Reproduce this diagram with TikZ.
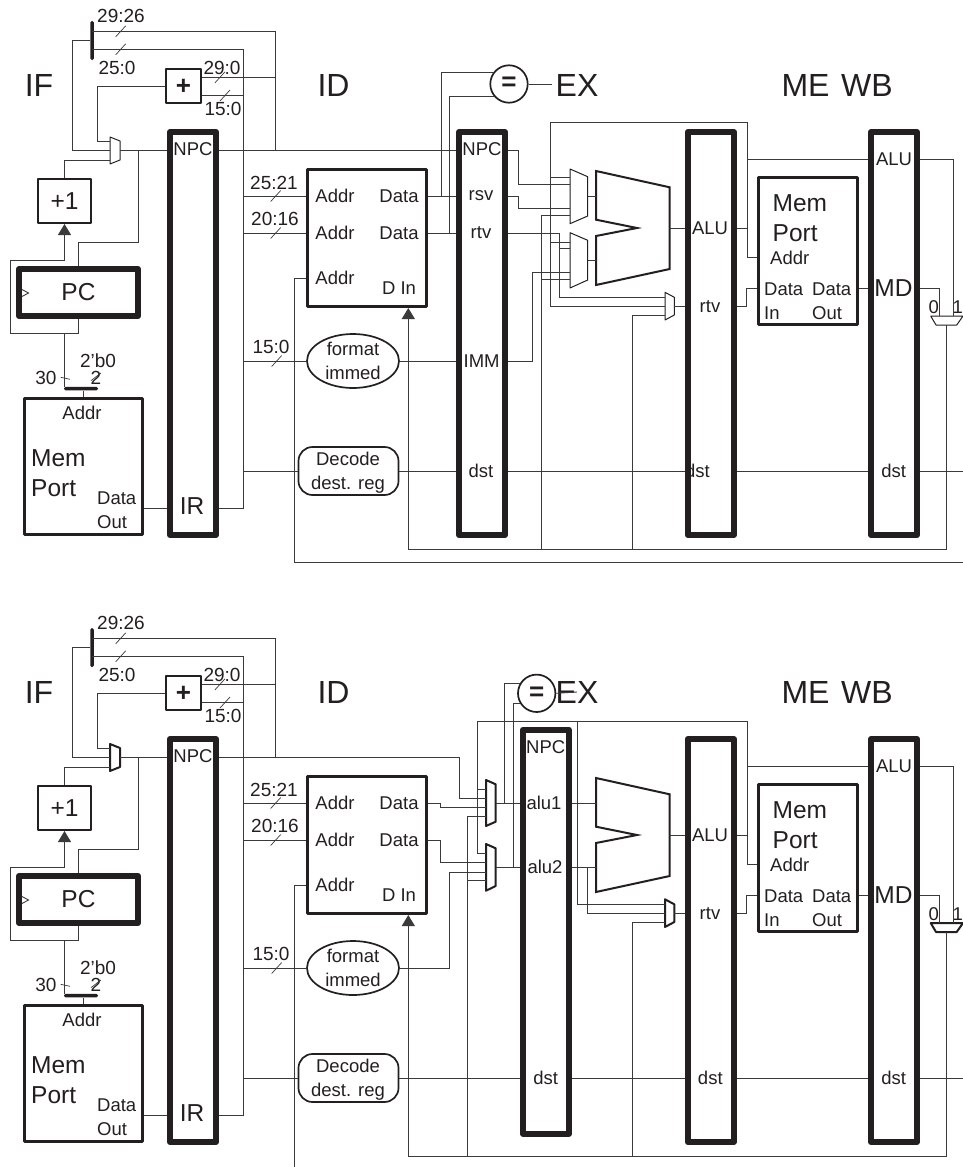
\documentclass[tikz,border=0pt]{standalone}
\usepackage{fontspec}
\setmainfont{Liberation Sans}
\usepackage{xcolor}
\usepackage{tikz}
\usetikzlibrary{arrows.meta,shapes.geometric}
\definecolor{cpuink}{HTML}{231F20}
\definecolor{cpuwire}{HTML}{3A3A3A}
\tikzset{
  lbl/.style={inner sep=0pt,text=cpuink,align=left,font=\fontsize{18.5}{24}\selectfont},
  buslbl/.style={lbl,font=\fontsize{19}{24}\selectfont},
  midlbl/.style={lbl,font=\fontsize{24.5}{30}\selectfont},
  stagelbl/.style={lbl,font=\fontsize{32}{36}\selectfont},
  pipereg/.style={draw=cpuink,line width=6pt,line join=round,inner sep=0pt,minimum width=46pt,minimum height=403pt},
  unitbox/.style={draw=cpuink,line width=3pt,line join=round,inner sep=0pt,text=cpuink},
  smallbox/.style={unitbox,line width=2pt},
  funcbox/.style={lbl,draw=cpuink,line width=1.7pt,align=center},
  barnode/.style={fill=cpuink,inner sep=0pt,rounded corners=1.5pt},
  wire/.style={draw=cpuwire,line width=0.9pt},
  arrowwire/.style={wire,-{Triangle[length=11pt,width=13pt]}},
  bustick/.style={draw=cpuwire,line width=0.7pt},
  muxbody/.style={draw=cpuink,line join=round},
  alubody/.style={draw=cpuink,line width=2pt},
}
\begin{document}
\begin{tikzpicture}[x=1pt,y=-1pt]
  \useasboundingbox (0,0) rectangle (963,1167);
  \foreach \s/\dy/\mw/\aluy/\dstx in {t/0/1/122.7/697.5,b/-607/2/114/710.3}{
  \begin{scope}[yshift=\dy pt]
    \node[stagelbl] (lif\s) at (39,85) {IF};
    \node[stagelbl] (lid\s) at (333.5,85) {ID};
    \node[stagelbl] (lex\s) at (577,85) {EX};
    \node[stagelbl] (lme\s) at (805.5,85) {ME};
    \node[stagelbl] (lwb\s) at (867,85) {WB};
    \node[barnode,minimum width=3.5pt,minimum height=39pt] (split\s) at (92,40.5) {};
    \node[smallbox,minimum width=35pt,minimum height=34pt] (adder\s) at (183.5,86) {};
    \node[lbl,font=\bfseries\fontsize{26}{28}\selectfont] (lplus\s) at (183.5,87) {+};
    \node[smallbox,minimum width=53pt,minimum height=44pt,font=\fontsize{24.5}{28}\selectfont] (inc\s) at (64.5,201) {+1};
    \node[unitbox,line width=6pt,minimum width=119pt,minimum height=47pt,font=\fontsize{24.5}{28}\selectfont] (pc\s) at (78.5,292.5) {PC};
    \node[barnode,minimum width=34pt,minimum height=3.5pt] (membar\s) at (81,388.7) {};
    \node[unitbox,minimum width=118.5pt,minimum height=136pt] (mem\s) at (83.25,466.5) {};
    \node[pipereg] (ifid\s) at (193,333.5) {};
    \node[unitbox,minimum width=119pt,minimum height=137pt] (regf\s) at (367,238) {};
    \node[funcbox,ellipse,inner sep=0pt,minimum width=92pt,minimum height=54pt] (fmt\s) at (353,361) {format\\immed};
    \node[funcbox,rounded corners=14pt,inner sep=0pt,minimum width=100pt,minimum height=48pt] (dec\s) at (348.5,471) {};
    \node[lbl,align=center] (ldec\s) at (348,472.5) {Decode\\dest. reg};
    \node[lbl] (ldst\s) at (\dstx,471) {dst};
    \node[pipereg] (exme\s) at (710.7,333.5) {};
    \node[pipereg] (mewb\s) at (894,333.5) {};
    \node[unitbox,minimum width=99pt,minimum height=146.7pt] (dmem\s) at (808,251) {};

    \node[buslbl] (lsa\s) at (121,16) {29:26};
    \node[buslbl] (lsb\s) at (117,68) {25:0};
    \node[buslbl] (laa\s) at (222,68) {29:0};
    \node[buslbl] (lab\s) at (223,109) {15:0};
    \node[buslbl] (lfa\s) at (274,183) {25:21};
    \node[buslbl] (lfb\s) at (275,219) {20:16};
    \node[buslbl] (lfc\s) at (271,347) {15:0};
    \node[buslbl] (lthirty\s) at (46,378) {30};
    \node[buslbl] (ltwo\s) at (96,378) {2};
    \node[buslbl] (lzero\s) at (98,361) {2'b0};
    \node[lbl] (lmaddr\s) at (82,413) {Addr};
    \node[midlbl,anchor=west] (lmem\s) at (31,473) {Mem\\Port};
    \node[lbl,anchor=west] (lmout\s) at (97,510) {Data\\Out};
    \node[lbl] (lnpc\s) at (193,149) {NPC};
    \node[midlbl] (lir\s) at (192,506) {IR};
    \node[lbl] (lad1\s) at (335,196) {Addr};
    \node[lbl] (lad2\s) at (335,233) {Addr};
    \node[lbl] (lad3\s) at (335,278) {Addr};
    \node[lbl] (lda1\s) at (399,196) {Data};
    \node[lbl] (lda2\s) at (399,233) {Data};
    \node[lbl] (ldin\s) at (399,288) {D In};
    \node[lbl] (lalu\s) at (710,228) {ALU};
    \node[lbl] (lrtv\s) at (710,306.5) {rtv};
    \node[midlbl,anchor=west] (ldmem\s) at (772.5,218) {Mem\\Port};
    \node[lbl,anchor=west] (ldaddr\s) at (770,257.7) {Addr};
    \node[lbl,anchor=west] (lddin\s) at (764,301.5) {Data\\In};
    \node[lbl,anchor=west] (lddout\s) at (812,301.5) {Data\\Out};
    \node[lbl] (lwalu\s) at (894,159.3) {ALU};
    \node[midlbl] (lmd\s) at (893.5,288) {MD};
    \node[lbl] (lwdst\s) at (893.6,471) {dst};
    \node[lbl] (lw0\s) at (933.7,307.3) {0};
    \node[lbl] (lw1\s) at (957.7,307.3) {1};

    \coordinate (splita\s) at (92,31);
    \coordinate (splitb\s) at (92,49);
    \coordinate (npcbus\s) at (275,31);
    \coordinate (irbus\s) at (243,49);
    \coordinate (addera\s) at (202,77);
    \coordinate (adderb\s) at (202,95.5);
    \coordinate (pma\s) at (110,141);
    \coordinate (pmb\s) at (110,150);
    \coordinate (pmc\s) at (110,160);
    \coordinate (pmo\s) at (120,150);
    \coordinate (pcnext\s) at (138,150);
    \coordinate (pcloop\s) at (10,260);
    \coordinate (pcdrop\s) at (64.5,333);
    \coordinate (irline\s) at (193,508);
    \coordinate (alubus\s) at (747.7,\aluy);
    \coordinate (alua\s) at (596,196.3);
    \coordinate (alub\s) at (596,260.3);
    \coordinate (aluo\s) at (669.7,228);
    \coordinate (mxr1\s) at (665,297);
    \coordinate (mxr2\s) at (665,306);
    \coordinate (mxr3\s) at (665,315.3);
    \coordinate (mxro\s) at (674.3,306);
    \coordinate (fb\s) at (408.3,549);
    \coordinate (fbusb\s) at (632.8,549);
    \coordinate (wba\s) at (939.7,316);
    \coordinate (wbb\s) at (953.3,316);
    \coordinate (wbo\s) at (946.3,325);
    \coordinate (dstedge\s) at (963,471);

    \draw[muxbody,line width=\mw pt] (110,137) -- (120,141) -- (120,160) -- (110,164) -- cycle;
    \draw[muxbody,line width=\mw pt] (665,292.3) -- (674.3,297.3) -- (674.3,315) -- (665,320) -- cycle;
    \draw[muxbody,line width=\mw pt] (930.7,316) -- (963,316) -- (956.7,325) -- (936,325) -- cycle;
    \draw[alubody] (596,171) -- (669.7,187.3) -- (669.7,269) -- (596,285) -- (596,236) -- (637,228) -- (596,219.7) -- cycle;
    \draw[wire] (22,289.5) -- (28.5,293) -- (22,296.5);

    \draw[wire] (split\s.west) -- ++(-18,0) |- (pmb\s);
    \draw[wire] (adder\s.west) -- ++(-68,0) |- (pma\s);
    \draw[wire] (inc\s.north) |- (pmc\s);
    \draw[wire] (pmo\s) -- (ifid\s.west |- pmo\s);
    \draw[wire] (pcnext\s) -- ++(0,92) -| (pc\s.north);
    \draw[arrowwire] (pc\s.south) -- ++(0,14) -| (pcloop\s) -| (inc\s.south);
    \draw[wire] (pcdrop\s) -- (pcdrop\s |- membar\s.north);
    \draw[wire] (membar\s.south -| mem\s.north) -- (mem\s.north);
    \draw[wire] (mem\s.east |- irline\s) -- (ifid\s.west |- irline\s);
    \draw[wire] (splitb\s) -- (irbus\s) -- (irbus\s |- irline\s) -- (ifid\s.east |- irline\s);
    \draw[wire] (splita\s) -- (npcbus\s) -- (npcbus\s |- pmo\s);
    \draw[wire] (addera\s) -- (npcbus\s |- addera\s);
    \draw[wire] (adderb\s) -- (irbus\s |- adderb\s);
    \draw[wire] (irbus\s |- lad1\s) -- (regf\s.west |- lad1\s);
    \draw[wire] (irbus\s |- lad2\s) -- (regf\s.west |- lad2\s);
    \draw[wire] (irbus\s |- fmt\s.west) -- (fmt\s.west);
    \draw[wire] (irbus\s |- dec\s.west) -- (dec\s.west);
    \draw[wire] (aluo\s) -- (exme\s.west |- aluo\s);
    \draw[wire] (exme\s.east |- aluo\s) -- (alubus\s |- aluo\s);
    \draw[wire] (alubus\s) |- (dmem\s.west |- ldaddr\s);
    \draw[wire] (alubus\s |- lwalu\s) -- (mewb\s.west |- lwalu\s);
    \draw[wire] (mxro\s) -- (exme\s.west |- mxro\s);
    \draw[wire] (exme\s.east |- mxro\s) -- ++(9.3,0) |- (dmem\s.west |- lmd\s);
    \draw[wire] (dmem\s.east |- lmd\s) -- (mewb\s.west |- lmd\s);
    \draw[wire] (mewb\s.east |- lwalu\s) -| (wbb\s);
    \draw[wire] (mewb\s.east |- lmd\s) -| (wba\s);
    \draw[arrowwire] (wbo\s) |- (fb\s) -- (fb\s |- regf\s.south);
    \draw[wire] (fbusb\s) |- (mxr3\s);
    \draw[wire] (exme\s.east |- dec\s) -- (mewb\s.west |- dec\s);
    \draw[wire] (mewb\s.east |- dec\s) -- (dstedge\s);

    \foreach \tx/\ty in {120.7/31.3,120.7/49.3,220/77.3,225/95.5,275.7/196,275.7/233,276.7/361}
      \draw[bustick] (\tx-5,\ty+5.5) -- (\tx+5,\ty-5.5);
    \draw[bustick] (60.7,377.3) -- (70,379.3);
    \draw[bustick] (91,380.6) -- (101,373);
  \end{scope}
  }

  \node[pipereg] (idext) at (482,333.5) {};
  \node[lbl] (lnpcx) at (482,149) {NPC};
  \node[lbl] (lrsv) at (481,196) {rsv};
  \node[lbl] (lrtvx) at (481,233) {rtv};
  \node[lbl] (limm) at (481.6,361) {IMM};
  \node[lbl] (ldstx) at (481,471) {dst};
  \node[smallbox,circle,line width=1.7pt,minimum size=37.4pt,font=\bfseries\fontsize{26}{28}\selectfont] (cmpt) at (509,84) {=};
  \coordinate (dtat) at (441,196);
  \coordinate (dtbt) at (449.5,233);
  \coordinate (mxa1t) at (570,177.7);
  \coordinate (mxa2t) at (570,184);
  \coordinate (mxa3t) at (570,208);
  \coordinate (mxa4t) at (570,215);
  \coordinate (mxaot) at (587.7,196.3);
  \coordinate (mxb1t) at (570,242.3);
  \coordinate (mxb2t) at (570,248);
  \coordinate (mxb3t) at (570,272);
  \coordinate (mxb4t) at (570,279);
  \coordinate (mxbot) at (587.7,260.3);
  \coordinate (rtvbus) at (559.7,233);
  \coordinate (immbus) at (532,361);
  \coordinate (alubusl) at (550,122.7);
  \coordinate (fbusa) at (541,549);
  \coordinate (wbcorner) at (294,562.7);
  \coordinate (wbedge) at (963,562.7);
  \draw[muxbody,line width=1pt] (570,169) -- (587.7,176.7) -- (587.7,216) -- (570,223.7) -- cycle;
  \draw[muxbody,line width=1pt] (570,232.7) -- (587.7,240.3) -- (587.7,280) -- (570,288) -- cycle;
  \draw[wire] (pmot -| ifidt.east) -- (idext.west |- pmot);
  \draw[wire] (regft.east |- lda1t) -- (idext.west |- lda1t);
  \draw[wire] (regft.east |- lda2t) -- (idext.west |- lda2t);
  \draw[wire] (cmpt.142) -| (dtat);
  \draw[wire] (cmpt.220) -| (dtbt);
  \draw[wire] (cmpt.east) -- ++(23,0);
  \draw[wire] (fmtt.east) -- (idext.west |- fmtt);
  \draw[wire] (dect.east) -- (idext.west |- dect);
  \draw[wire] (idext.east |- dect) -- (exmet.west |- dect);
  \draw[wire] (idext.east |- pmot) -- ++(10.5,0) |- (mxa2t);
  \draw[wire] (idext.east |- lrsv) -- ++(10.5,0) |- (mxa3t);
  \draw[wire] (idext.east |- lrtvx) -- (rtvbus) |- (mxr1t);
  \draw[wire] (rtvbus |- mxb2t) -- (mxb2t);
  \draw[wire] (idext.east |- limm) -- (immbus) |- (mxb3t);
  \draw[wire] (fbusa) |- (mxa4t);
  \draw[wire] (fbusa |- mxb4t) -- (mxb4t);
  \draw[wire] (alubust) -- (alubusl) |- (mxr2t);
  \draw[wire] (alubusl |- mxa1t) -- (mxa1t);
  \draw[wire] (alubusl |- mxb1t) -- (mxb1t);
  \draw[wire] (mxaot) -- (aluat);
  \draw[wire] (mxbot) -- (alubt);
  \draw[wire] (regft.west |- lad3t) -| (wbcorner) -- (wbedge);

  \node[pipereg,minimum height=404pt] (idexb) at (545.8,931.7) {};
  \node[lbl] (lnpcy) at (545.7,747.3) {NPC};
  \node[lbl] (lalua) at (544,803.3) {alu1};
  \node[lbl] (lalub) at (545,867.3) {alu2};
  \node[lbl] (ldsty) at (545.7,1078) {dst};
  \node[smallbox,circle,line width=1.7pt,minimum size=37.4pt,font=\bfseries\fontsize{26}{28}\selectfont] (cmpb) at (536.7,693.3) {=};
  \coordinate (mxa1b) at (486,789.3);
  \coordinate (mxa2b) at (486,798.7);
  \coordinate (mxa3b) at (486,807.3);
  \coordinate (mxa4b) at (486,816.7);
  \coordinate (mxaob) at (495.7,803.3);
  \coordinate (mxb1b) at (486,853.3);
  \coordinate (mxb2b) at (486,862.7);
  \coordinate (mxb3b) at (486,872);
  \coordinate (mxb4b) at (486,880.7);
  \coordinate (mxbob) at (495.7,867.3);
  \coordinate (eqa) at (504.3,803.3);
  \coordinate (eqb) at (513.7,867.3);
  \coordinate (npctap) at (459,757);
  \coordinate (immtap) at (449.4,968);
  \coordinate (alubusm) at (477.3,721);
  \coordinate (alutap) at (577.7,721);
  \coordinate (fwdtap) at (587.3,867.3);
  \coordinate (fbusc) at (467.7,1156);
  \coordinate (wbend) at (294,1167);
  \draw[muxbody,line width=2pt] (486,780) -- (495.7,784.3) -- (495.7,821.7) -- (486,826) -- cycle;
  \draw[muxbody,line width=2pt] (486,844) -- (495.7,848.3) -- (495.7,886) -- (486,890.7) -- cycle;
  \draw[wire] (mxaob) -- (idexb.west |- mxaob);
  \draw[wire] (mxbob) -- (idexb.west |- mxbob);
  \draw[wire] (cmpb.150) -| (eqa);
  \draw[wire] (cmpb.210) -| (eqb);
  \draw[wire] (cmpb.east) -- (lexb.center);
  \draw[wire] (idexb.east |- lalua) -- (lalua -| aluab);
  \draw[wire] (idexb.east |- lalub) -- (lalub -| alubb);
  \draw[wire] (fwdtap) |- (mxr2b);
  \draw[wire] (alubusb) -- (alubusm) |- (mxb1b);
  \draw[wire] (alubusm |- mxa1b) -- (mxa1b);
  \draw[wire] (alutap) |- (mxr1b);
  \draw[wire] (pmob -| ifidb.east) -- (npctap) |- (mxa2b);
  \draw[wire] (regfb.east |- lda1b) -- ++(12.3,0) |- (mxa3b);
  \draw[wire] (regfb.east |- lda2b) -- ++(12.3,0) |- (mxb2b);
  \draw[wire] (fmtb.east) -- (immtap) |- (mxb3b);
  \draw[wire] (fbusc) |- (mxa4b);
  \draw[wire] (fbusc |- mxb4b) -- (mxb4b);
  \draw[wire] (decb.east) -- (idexb.west |- decb);
  \draw[wire] (idexb.east |- decb) -- (exmeb.west |- decb);
  \draw[wire] (regfb.west |- lad3b) -| (wbend);
\end{tikzpicture}
\end{document}
